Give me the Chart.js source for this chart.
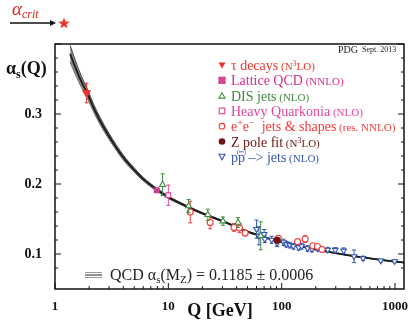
<!DOCTYPE html>
<html>
<head>
<meta charset="utf-8">
<script src="https://cdn.jsdelivr.net/npm/chart.js@4.4.0/dist/chart.umd.min.js"></script>
<style>
  html, body { margin: 0; padding: 0; background: #fff; }
</style>
</head>
<body>
<canvas id="grafica" width="416" height="322"></canvas>
<script>
const ctx = document.getElementById('grafica').getContext('2d');

// Curva QCD
const curvaQ = [1.36, 1.5, 1.7, 1.92, 2.2, 2.5, 3, 4, 5, 6, 7.9, 10, 15, 20, 30, 50, 66, 91.2, 150, 250, 500, 750, 1000, 1260];
const curvaAlfa = [0.386, 0.368, 0.347, 0.330, 0.308, 0.290, 0.268, 0.238, 0.220, 0.207, 0.192, 0.181, 0.167, 0.158, 0.147, 0.132, 0.1255, 0.1185, 0.1105, 0.1035, 0.0955, 0.0915, 0.089, 0.0875];
const curvaBanda = [0.012, 0.010, 0.008, 0.0065, 0.0055, 0.005, 0.0042, 0.0035, 0.003, 0.0025, 0.002, 0.0017, 0.0013, 0.0011, 0.0009, 0.0008, 0.0007, 0.0006, 0.0005, 0.0005, 0.0004, 0.0004, 0.0004, 0.0004];

// Medidas
const tauQ = [1.9];
const tauAlfa = [0.330];
const tauErr = [0.014];

const latticeQ = [7.9];
const latticeAlfa = [0.191];
const latticeErr = [0.002];

const disQ = [8.9, 15.1, 22.3, 30.3, 41.2, 65.3];
const disAlfa = [0.199, 0.1685, 0.156, 0.147, 0.145, 0.126];
const disErr = [0.0155, 0.0095, 0.008, 0.006, 0.007, 0.020];

const quarkoniaQ = [10];
const quarkoniaAlfa = [0.184];
const quarkoniaErr = [0.0145];

const eeQ = [15.6, 23.4, 38, 42.4, 47.6, 93.5, 138, 161, 188, 207, 227];
const eeAlfa = [0.160, 0.145, 0.138, 0.137, 0.130, 0.1225, 0.1175, 0.1215, 0.1118, 0.1108, 0.1065];
const eeErr = [0.0155, 0.009, 0.0055, 0.0065, 0.004, 0.004, 0.004, 0.005, 0.003, 0.003, 0.003];

const zpoloQ = [91.2];
const zpoloAlfa = [0.1197];
const zpoloErr = [0.0028];

const ppQ = [60, 63, 70, 71, 81.5, 91, 104, 110, 118, 127, 141, 150, 169, 185, 208, 255, 297, 352, 435, 523, 749, 994];
const ppAlfa = [0.1355, 0.126, 0.1284, 0.1213, 0.1203, 0.1156, 0.1166, 0.114, 0.1128, 0.111, 0.1095, 0.111, 0.108, 0.107, 0.108, 0.106, 0.1057, 0.1047, 0.0967, 0.094, 0.0905, 0.0896];
const ppErr = [0.013, 0.013, 0.0066, 0.005, 0.005, 0.0047, 0.0045, 0.004, 0.004, 0.004, 0.004, 0.004, 0.004, 0.004, 0.0035, 0.0035, 0.0035, 0.004, 0.009, 0.003, 0.002, 0.002];

// Colores
const rojoTau = '#e8352c';
const magenta = '#d2308a';
const verde = '#3f8a3f';
const rosa = '#e2449c';
const rojo = '#ee3a3a';
const granate = '#6e1414';
const azul = '#3555ad';

const serif = '"Liberation Serif", "Times New Roman", serif';

function puntos(qs, alfas) {
    return qs.map((q, i) => ({ x: q, y: alfas[i] }));
}

function esPotencia(v) {
    const l = Math.log10(v);
    return Math.abs(l - Math.round(l)) < 1e-9;
}

function esDecima(v) {
    return Math.abs(v * 10 - Math.round(v * 10)) < 1e-6;
}

// Texto con tramos de distinto tamaño (subíndices, superíndices)
function tramos(c, x, y, lista, color) {
    c.fillStyle = color;
    c.textBaseline = 'alphabetic';
    c.textAlign = 'left';
    lista.forEach(([t, size, dy, estilo]) => {
        c.font = (estilo || '') + ' ' + size + 'px ' + serif;
        c.fillText(t, x, y + (dy || 0));
        x += c.measureText(t).width;
    });
    return x;
}

function simbolo(c, tipo, x, y, color) {
    c.save();
    c.strokeStyle = color;
    c.fillStyle = color;
    c.lineWidth = 1.1;
    c.beginPath();
    if (tipo === 'trianguloLleno') {
        c.moveTo(x - 3.5, y - 2.5); c.lineTo(x + 3.5, y - 2.5); c.lineTo(x, y + 3.5); c.closePath(); c.fill();
    } else if (tipo === 'cuadX') {
        c.fillStyle = '#e070b0';
        c.fillRect(x - 3, y - 3, 6, 6);
        c.strokeRect(x - 3, y - 3, 6, 6);
        c.moveTo(x - 3, y - 3); c.lineTo(x + 3, y + 3); c.moveTo(x + 3, y - 3); c.lineTo(x - 3, y + 3); c.stroke();
    } else if (tipo === 'trianguloArriba') {
        c.moveTo(x - 3, y + 2.5); c.lineTo(x + 3, y + 2.5); c.lineTo(x, y - 3); c.closePath(); c.stroke();
    } else if (tipo === 'cuadrado') {
        c.strokeRect(x - 2.8, y - 2.8, 5.6, 5.6);
    } else if (tipo === 'circulo') {
        c.arc(x, y, 2.8, 0, Math.PI * 2); c.stroke();
    } else if (tipo === 'punto') {
        c.arc(x, y, 3.3, 0, Math.PI * 2); c.fill();
    } else if (tipo === 'trianguloAbajo') {
        c.moveTo(x - 3, y - 2.5); c.lineTo(x + 3, y - 2.5); c.lineTo(x, y + 3); c.closePath(); c.stroke();
    }
    c.restore();
}

const leyenda = [
    ['trianguloLleno', rojoTau, [['τ decays', 14], [' (N', 11], ['3', 8, -4], ['LO)', 11]]],
    ['cuadX', magenta, [['Lattice QCD', 14], [' (NNLO)', 11]]],
    ['trianguloArriba', verde, [['DIS jets', 14], [' (NLO)', 11]]],
    ['cuadrado', rosa, [['Heavy Quarkonia', 14], [' (NLO)', 11]]],
    ['circulo', rojo, [['e', 14], ['+', 10, -5], ['e', 14], ['−', 10, -5], ['  jets & shapes', 14], [' (res. NNLO)', 11]]],
    ['punto', granate, [['Z pole fit', 14], [' (N', 11], ['3', 8, -4], ['LO)', 11]]],
    ['trianguloAbajo', azul, [['pp', 14], [' –> jets', 14], [' (NLO)', 11]]]
];

const dibujoExtra = {
    id: 'dibujoExtra',
    // Barras de error antes de cada serie
    beforeDatasetDraw(chart, args) {
        const ds = chart.data.datasets[args.index];
        if (!ds.errores) return;
        const xs = chart.scales.x, ys = chart.scales.y;
        const c = chart.ctx;
        c.save();
        c.strokeStyle = ds.borderColor;
        c.lineWidth = 1;
        ds.data.forEach((p, i) => {
            const e = ds.errores[i];
            const x = xs.getPixelForValue(p.x);
            const y1 = ys.getPixelForValue(p.y + e);
            const y2 = ys.getPixelForValue(p.y - e);
            c.beginPath();
            c.moveTo(x, y1); c.lineTo(x, y2);
            c.moveTo(x - 2, y1); c.lineTo(x + 2, y1);
            c.moveTo(x - 2, y2); c.lineTo(x + 2, y2);
            c.stroke();
        });
        c.restore();
    },
    afterDraw(chart) {
        const c = chart.ctx;
        const a = chart.chartArea;
        const xs = chart.scales.x, ys = chart.scales.y;
        c.save();

        // Marco
        c.strokeStyle = '#111';
        c.lineWidth = 1.5;
        c.strokeRect(a.left, a.top, a.right - a.left, a.bottom - a.top);

        // Marcas hacia dentro
        c.lineWidth = 1;
        c.beginPath();
        ys.ticks.forEach(t => {
            const v = t.value;
            if (Math.abs(v * 50 - Math.round(v * 50)) > 1e-6) return;
            const y = ys.getPixelForValue(v);
            const l = esDecima(v) ? 6 : 3;
            c.moveTo(a.left, y); c.lineTo(a.left + l, y);
            c.moveTo(a.right, y); c.lineTo(a.right - l, y);
        });
        xs.ticks.forEach(t => {
            const v = t.value;
            const m = v / Math.pow(10, Math.floor(Math.log10(v) + 1e-9));
            if (Math.abs(m - Math.round(m)) > 1e-6) return;
            const x = xs.getPixelForValue(v);
            const l = esPotencia(v) ? 6 : 3;
            c.moveTo(x, a.bottom); c.lineTo(x, a.bottom - l);
        });
        c.stroke();

        // Títulos de los ejes
        tramos(c, 6, 74, [['α', 18, 0, 'bold'], ['s', 12, 4, 'bold'], ['(Q)', 18, 0, 'bold']], '#111');
        c.font = 'bold 18px ' + serif;
        c.textAlign = 'center';
        c.fillStyle = '#111';
        c.fillText('Q [GeV]', 220, 316);

        // PDG
        let px = tramos(c, 338, 53, [['PDG', 10]], '#222');
        tramos(c, px + 4, 52, [['Sept. 2013', 8]], '#222');

        // Leyenda
        leyenda.forEach(([tipo, color, lista], i) => {
            const y = 65 + i * 15.3;
            simbolo(c, tipo, 222, y, color);
            tramos(c, 231, y + 5, lista, color);
            if (tipo === 'trianguloAbajo') {
                // barra sobre la segunda p
                c.font = '14px ' + serif;
                const w = c.measureText('p').width;
                c.strokeStyle = color;
                c.lineWidth = 0.8;
                c.beginPath();
                c.moveTo(231 + w + 1, y - 5); c.lineTo(231 + 2 * w - 1, y - 5);
                c.stroke();
                tramos(c, 231 + w - 1, y - 3, [['(', 6]], color);
                tramos(c, 231 + 2 * w - 1, y - 3, [[')', 6]], color);
            }
        });

        // Texto inferior
        c.lineWidth = 1;
        [['#999', 272.5], ['#222', 275], ['#999', 277.5]].forEach(([col, y]) => {
            c.strokeStyle = col;
            c.beginPath(); c.moveTo(85, y); c.lineTo(102, y); c.stroke();
        });
        tramos(c, 110, 280, [['QCD α', 16], ['s', 11, 3], ['(M', 16], ['Z', 11, 3], [') = 0.1185 ± 0.0006', 16]], '#222');

        // α crítico con flecha y estrella
        tramos(c, 12, 15, [['α', 19, 0, 'italic'], ['crit', 12, 3, 'italic']], '#d8281e');
        c.strokeStyle = '#111';
        c.fillStyle = '#111';
        c.lineWidth = 1.3;
        c.beginPath(); c.moveTo(10, 23); c.lineTo(52, 23); c.stroke();
        c.beginPath(); c.moveTo(56, 23); c.lineTo(50, 20); c.lineTo(50, 26); c.closePath(); c.fill();
        c.fillStyle = '#e8352c';
        c.beginPath();
        for (let k = 0; k < 10; k++) {
            const r = k % 2 === 0 ? 6 : 2.6;
            const ang = -Math.PI / 2 + k * Math.PI / 5;
            const sx = 64 + r * Math.cos(ang), sy = 23.5 + r * Math.sin(ang);
            if (k === 0) c.moveTo(sx, sy); else c.lineTo(sx, sy);
        }
        c.closePath(); c.fill();

        c.restore();
    }
};

const curvaSup = curvaAlfa.map((v, i) => v + curvaBanda[i]);
const curvaInf = curvaAlfa.map((v, i) => v - curvaBanda[i]);

const data = {
    datasets: [
        { label: 'τ decays', data: puntos(tauQ, tauAlfa), errores: tauErr, pointStyle: 'triangle', rotation: 180, pointRadius: 4.5, backgroundColor: rojoTau, borderColor: rojoTau, order: 1 },
        { label: 'Lattice X', data: puntos(latticeQ, latticeAlfa), pointStyle: 'crossRot', pointRadius: 3, borderColor: '#a01868', borderWidth: 1, order: 1 },
        { label: 'Lattice QCD', data: puntos(latticeQ, latticeAlfa), errores: latticeErr, pointStyle: 'rect', pointRadius: 3.5, backgroundColor: '#e070b0', borderColor: magenta, borderWidth: 1, order: 2 },
        { label: 'DIS jets', data: puntos(disQ, disAlfa), errores: disErr, pointStyle: 'triangle', pointRadius: 3.5, backgroundColor: '#fff', borderColor: verde, borderWidth: 1.1, order: 2 },
        { label: 'Heavy Quarkonia', data: puntos(quarkoniaQ, quarkoniaAlfa), errores: quarkoniaErr, pointStyle: 'rect', pointRadius: 3.3, backgroundColor: '#fff', borderColor: rosa, borderWidth: 1.1, order: 2 },
        { label: 'e+e- jets & shapes', data: puntos(eeQ, eeAlfa), errores: eeErr, pointStyle: 'circle', pointRadius: 3, backgroundColor: '#fff', borderColor: rojo, borderWidth: 1.1, order: 2 },
        { label: 'Z pole fit', data: puntos(zpoloQ, zpoloAlfa), errores: zpoloErr, pointStyle: 'circle', pointRadius: 3.2, backgroundColor: granate, borderColor: granate, order: 1 },
        { label: 'pp -> jets', data: puntos(ppQ, ppAlfa), errores: ppErr, pointStyle: 'triangle', rotation: 180, pointRadius: 3.2, backgroundColor: '#fff', borderColor: azul, borderWidth: 1.1, order: 3 },
        { label: 'banda sup', data: puntos(curvaQ, curvaSup), showLine: true, pointRadius: 0, borderColor: '#444', borderWidth: 1, backgroundColor: '#8c8c8c', fill: '+1', cubicInterpolationMode: 'monotone', order: 20 },
        { label: 'banda inf', data: puntos(curvaQ, curvaInf), showLine: true, pointRadius: 0, borderColor: '#444', borderWidth: 1, fill: false, cubicInterpolationMode: 'monotone', order: 20 },
        { label: 'QCD', data: puntos(curvaQ, curvaAlfa), showLine: true, pointRadius: 0, borderColor: '#1a1a1a', borderWidth: 1.8, fill: false, cubicInterpolationMode: 'monotone', order: 19 }
    ]
};

const config = {
    type: 'scatter',
    data: data,
    plugins: [dibujoExtra],
    options: {
        responsive: false,
        animation: false,
        devicePixelRatio: 1,
        layout: { padding: { left: 0, top: 44, right: 12, bottom: 0 } },
        plugins: {
            legend: { display: false },
            tooltip: { enabled: false }
        },
        scales: {
            x: {
                type: 'logarithmic',
                min: 1,
                max: 1200,
                grid: { display: false },
                border: { display: false },
                ticks: {
                    autoSkip: false,
                    maxRotation: 0,
                    padding: 2,
                    color: '#111',
                    font: { family: serif, size: 13, weight: 'bold' },
                    callback: (v) => esPotencia(v) ? String(Math.round(v)) : ''
                },
                afterFit: (s) => { s.height = 33; }
            },
            y: {
                min: 0.05,
                max: 0.4,
                grid: { display: false },
                border: { display: false },
                ticks: {
                    stepSize: 0.02,
                    autoSkip: false,
                    padding: 5,
                    color: '#111',
                    font: { family: serif, size: 14, weight: 'bold' },
                    callback: (v) => (esDecima(v) && v < 0.35) ? v.toFixed(1) : ''
                },
                afterFit: (s) => { s.width = 55; }
            }
        }
    }
};

const grafica = new Chart(ctx, config);
</script>
</body>
</html>
